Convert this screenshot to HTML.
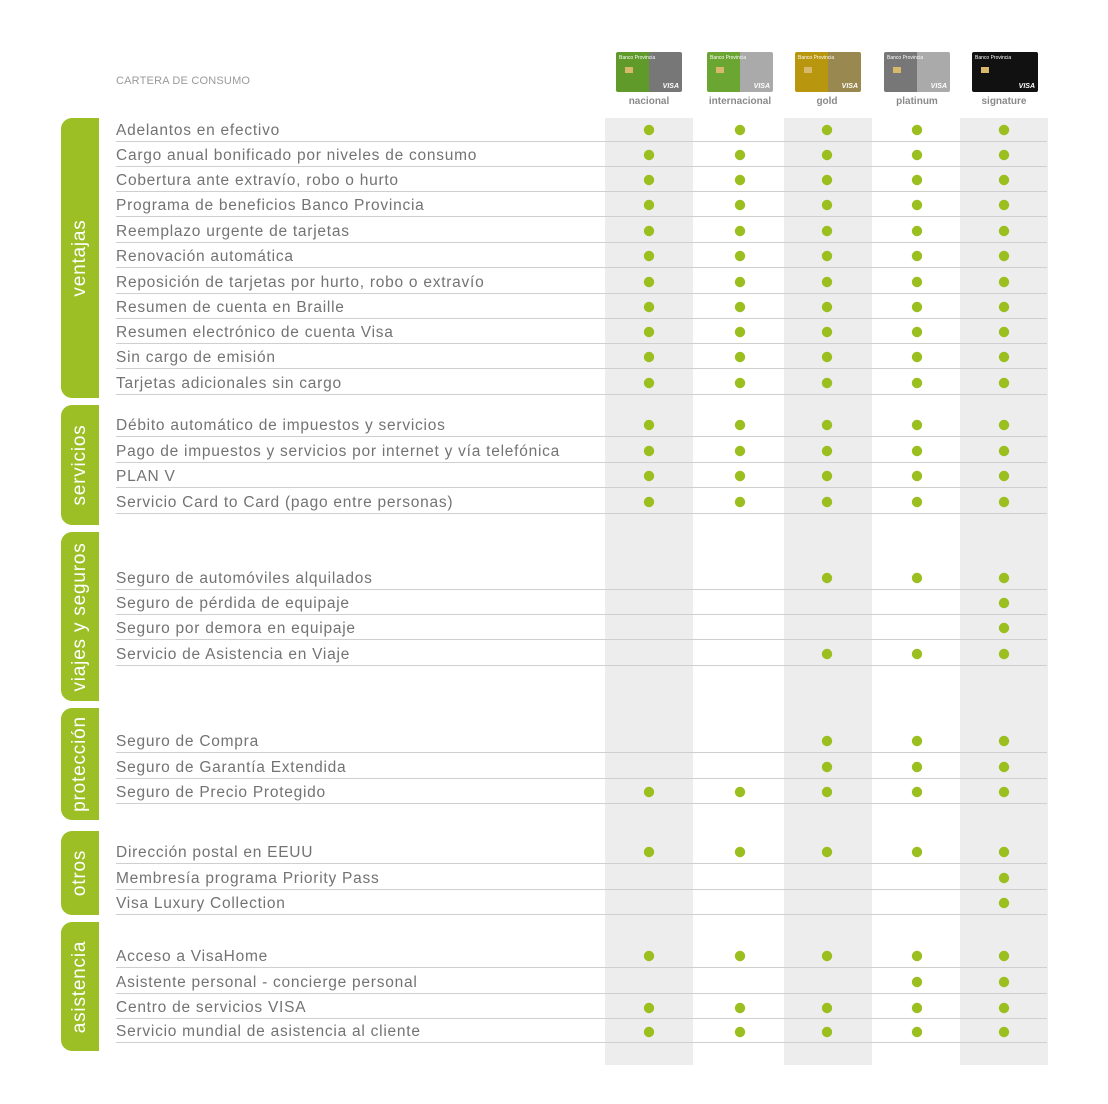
<!DOCTYPE html>
<html><head><meta charset="utf-8">
<style>
*{margin:0;padding:0;box-sizing:border-box}
body{width:1108px;height:1104px;background:#fff;position:relative;overflow:hidden;font-family:"Liberation Sans",sans-serif}
.col{position:absolute;top:118px;height:947px;width:88px;background:#ededed}
.tab{position:absolute;left:61px;width:38px;background:#9bbf24;border-radius:11px 0 0 11px}
.tab span{position:absolute;left:50%;top:50%;transform:translate(-50%,-50%) rotate(-90deg);color:#fff;font-size:19px;white-space:nowrap;letter-spacing:0.8px}
.r{position:absolute;left:116px;width:931px;height:24px;border-bottom:1px solid #cfcfcf;color:#737373;font-size:15.5px;line-height:25px;letter-spacing:0.75px;white-space:nowrap}
.card{position:absolute;top:52px;width:66px;height:40px;border-radius:2px;overflow:hidden}
.card b{position:absolute;right:3px;bottom:2px;color:#fff;font-size:7px;font-style:italic}
.card i{position:absolute;left:3px;top:3px;color:#fff;font-size:5px;font-style:normal}
.card u{position:absolute;left:9px;top:15px;width:8px;height:6px;background:#d8b86a;text-decoration:none}
.lab{position:absolute;top:96px;width:100px;text-align:center;font-size:10px;font-weight:bold;color:#8a8a8a}
</style></head><body>
<div class="col" style="left:605px"></div>
<div class="col" style="left:784px"></div>
<div class="col" style="left:960px"></div>

<div style="position:absolute;left:116px;top:75px;font-size:11px;color:#9a9a9a;letter-spacing:0.2px">CARTERA DE CONSUMO</div>

<div class="card" style="left:616px;background:linear-gradient(90deg,#5f9a2a 0 50%,#777 50%)"><i>Banco Provincia</i><u></u><b>VISA</b></div>
<div class="card" style="left:707px;background:linear-gradient(90deg,#6ba532 0 50%,#aaa 50%)"><i>Banco Provincia</i><u></u><b>VISA</b></div>
<div class="card" style="left:795px;background:linear-gradient(90deg,#b8960e 0 50%,#998850 50%)"><i>Banco Provincia</i><u></u><b>VISA</b></div>
<div class="card" style="left:884px;background:linear-gradient(90deg,#777 0 50%,#aaa 50%)"><i>Banco Provincia</i><u></u><b>VISA</b></div>
<div class="card" style="left:972px;background:#111"><i>Banco Provincia</i><u></u><b>VISA</b></div>
<div class="lab" style="left:599px">nacional</div>
<div class="lab" style="left:690px">internacional</div>
<div class="lab" style="left:777px">gold</div>
<div class="lab" style="left:867px">platinum</div>
<div class="lab" style="left:954px">signature</div>

<div class="tab" style="top:118px;height:280px"><span>ventajas</span></div>
<div class="tab" style="top:405px;height:120px"><span>servicios</span></div>
<div class="tab" style="top:532px;height:169px"><span>viajes y seguros</span></div>
<div class="tab" style="top:708px;height:112px"><span>protección</span></div>
<div class="tab" style="top:831px;height:84px"><span>otros</span></div>
<div class="tab" style="top:922px;height:129px"><span>asistencia</span></div>

<div class="r" style="top:118px">Adelantos en efectivo</div>
<div class="r" style="top:143px">Cargo anual bonificado por niveles de consumo</div>
<div class="r" style="top:168px">Cobertura ante extravío, robo o hurto</div>
<div class="r" style="top:193px">Programa de beneficios Banco Provincia</div>
<div class="r" style="top:219px">Reemplazo urgente de tarjetas</div>
<div class="r" style="top:244px">Renovación automática</div>
<div class="r" style="top:270px">Reposición de tarjetas por hurto, robo o extravío</div>
<div class="r" style="top:295px">Resumen de cuenta en Braille</div>
<div class="r" style="top:320px">Resumen electrónico de cuenta Visa</div>
<div class="r" style="top:345px">Sin cargo de emisión</div>
<div class="r" style="top:371px">Tarjetas adicionales sin cargo</div>

<div class="r" style="top:413px">Débito automático de impuestos y servicios</div>
<div class="r" style="top:439px">Pago de impuestos y servicios por internet y vía telefónica</div>
<div class="r" style="top:464px">PLAN V</div>
<div class="r" style="top:490px">Servicio Card to Card (pago entre personas)</div>

<div class="r" style="top:566px">Seguro de automóviles alquilados</div>
<div class="r" style="top:591px">Seguro de pérdida de equipaje</div>
<div class="r" style="top:616px">Seguro por demora en equipaje</div>
<div class="r" style="top:642px">Servicio de Asistencia en Viaje</div>

<div class="r" style="top:729px">Seguro de Compra</div>
<div class="r" style="top:755px">Seguro de Garantía Extendida</div>
<div class="r" style="top:780px">Seguro de Precio Protegido</div>

<div class="r" style="top:840px">Dirección postal en EEUU</div>
<div class="r" style="top:866px">Membresía programa Priority Pass</div>
<div class="r" style="top:891px">Visa Luxury Collection</div>

<div class="r" style="top:944px">Acceso a VisaHome</div>
<div class="r" style="top:970px">Asistente personal - concierge personal</div>
<div class="r" style="top:995px">Centro de servicios VISA</div>
<div class="r" style="top:1019px">Servicio mundial de asistencia al cliente</div>

<svg style="position:absolute;left:0;top:0" width="1108" height="1104">
<defs>
<circle id="c" r="5.2" fill="#9bbf1e"/>
<g id="a5"><use href="#c" x="649"/><use href="#c" x="740"/><use href="#c" x="827"/><use href="#c" x="917"/><use href="#c" x="1004"/></g>
<g id="gps"><use href="#c" x="827"/><use href="#c" x="917"/><use href="#c" x="1004"/></g>
</defs>
<use href="#a5" y="130"/><use href="#a5" y="155"/><use href="#a5" y="180"/><use href="#a5" y="205"/><use href="#a5" y="231"/><use href="#a5" y="256"/><use href="#a5" y="282"/><use href="#a5" y="307"/><use href="#a5" y="332"/><use href="#a5" y="357"/><use href="#a5" y="383"/>
<use href="#a5" y="425"/><use href="#a5" y="451"/><use href="#a5" y="476"/><use href="#a5" y="502"/>
<use href="#a5" y="792"/><use href="#a5" y="852"/>
<use href="#a5" y="956"/><use href="#a5" y="1008"/><use href="#a5" y="1032"/>
<use href="#gps" y="578"/><use href="#gps" y="654"/><use href="#gps" y="741"/><use href="#gps" y="767"/>
<use href="#c" x="1004" y="603"/><use href="#c" x="1004" y="628"/>
<use href="#c" x="1004" y="878"/><use href="#c" x="1004" y="903"/>
<use href="#c" x="917" y="982"/><use href="#c" x="1004" y="982"/>
</svg>
</body></html>
